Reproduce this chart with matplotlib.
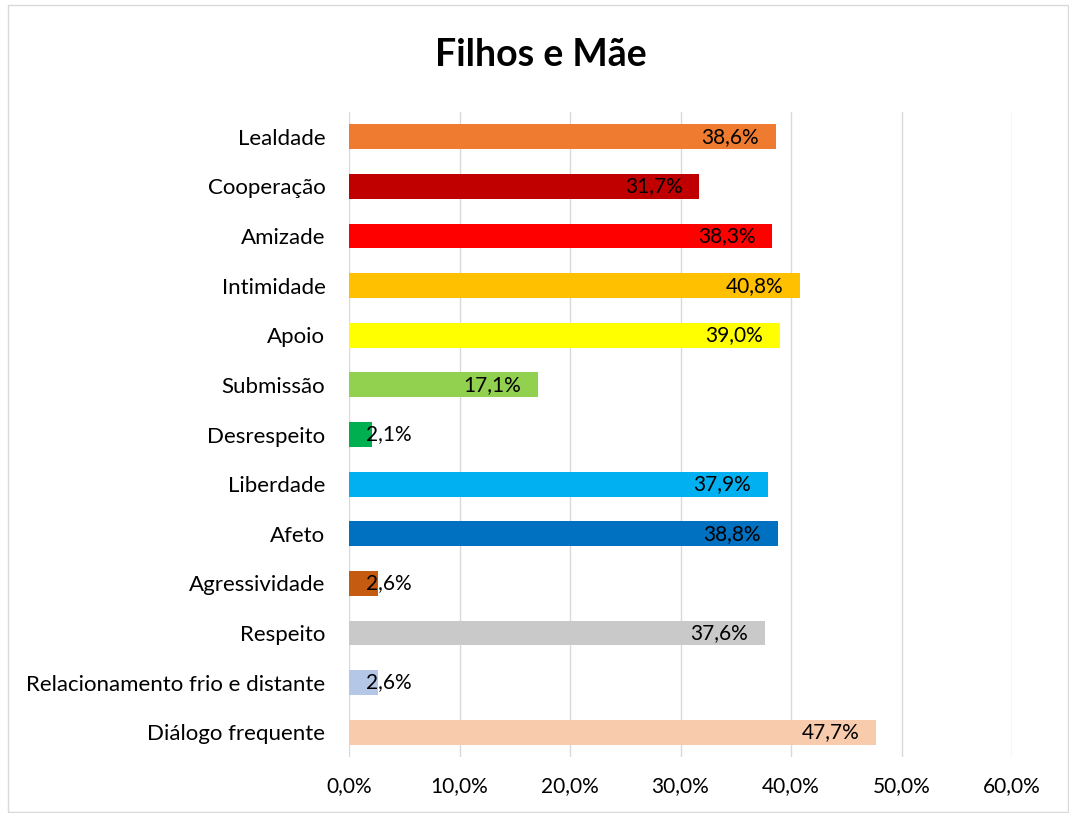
import matplotlib.pyplot as plt
from matplotlib.patches import Rectangle

plt.rcParams['font.family'] = ['Lato', 'DejaVu Sans']

categorias = ['Lealdade', 'Cooperação', 'Amizade', 'Intimidade', 'Apoio', 'Submissão',
              'Desrespeito', 'Liberdade', 'Afeto', 'Agressividade', 'Respeito',
              'Relacionamento frio e distante', 'Diálogo frequente']
valores = [38.6, 31.7, 38.3, 40.8, 39.0, 17.1, 2.1, 37.9, 38.8, 2.6, 37.6, 2.6, 47.7]
cores = ['#EE7B30', '#C00000', '#FF0000', '#FFC000', '#FFFF00', '#92D050', '#00B050',
         '#00B0F0', '#0070C0', '#C55A11', '#C9C9C9', '#B4C7E7', '#F8CBAD']
ticks = [0, 10, 20, 30, 40, 50, 60]

fig = plt.figure(figsize=(10.69, 8.13), dpi=100)
fig.patches.append(Rectangle((8 / 1069, 0.001), 1 - 9 / 1069, 1 - 6 / 813, transform=fig.transFigure,
                             fill=False, edgecolor='#D9D9D9', linewidth=1))
ax = fig.add_axes([0.3265, 0.0689, 0.6202, 0.7933])

y = list(range(len(categorias)))
ax.barh(y, valores, height=0.5, color=cores, zorder=2)

for i, v in enumerate(valores):
    txt = f'{v:.1f}%'.replace('.', ',')
    if v < 5:
        ax.annotate(txt, (0, i), xytext=(12, 0), textcoords='offset points',
                    ha='left', va='center', fontsize=15, zorder=3)
    else:
        ax.annotate(txt, (v, i), xytext=(-12, 0), textcoords='offset points',
                    ha='right', va='center', fontsize=15, zorder=3)

ax.set_xlim(0, 60)
ax.set_ylim(len(categorias) - 0.5, -0.5)
ax.set_yticks(y)
ax.set_yticklabels(categorias, fontsize=16)
ax.set_xticks(ticks)
ax.set_xticklabels([f'{t:.1f}%'.replace('.', ',') for t in ticks], fontsize=15)
ax.tick_params(length=0, pad=14, axis='x')
ax.tick_params(length=0, pad=17, axis='y')
ax.grid(axis='x', color='#D9D9D9', linewidth=1, zorder=0)
for s in ax.spines.values():
    s.set_visible(False)

fig.text(0.506, 0.932, 'Filhos e Mãe', ha='center', va='center', fontsize=27, fontweight='bold')

fig.savefig('out.png', dpi=100)
